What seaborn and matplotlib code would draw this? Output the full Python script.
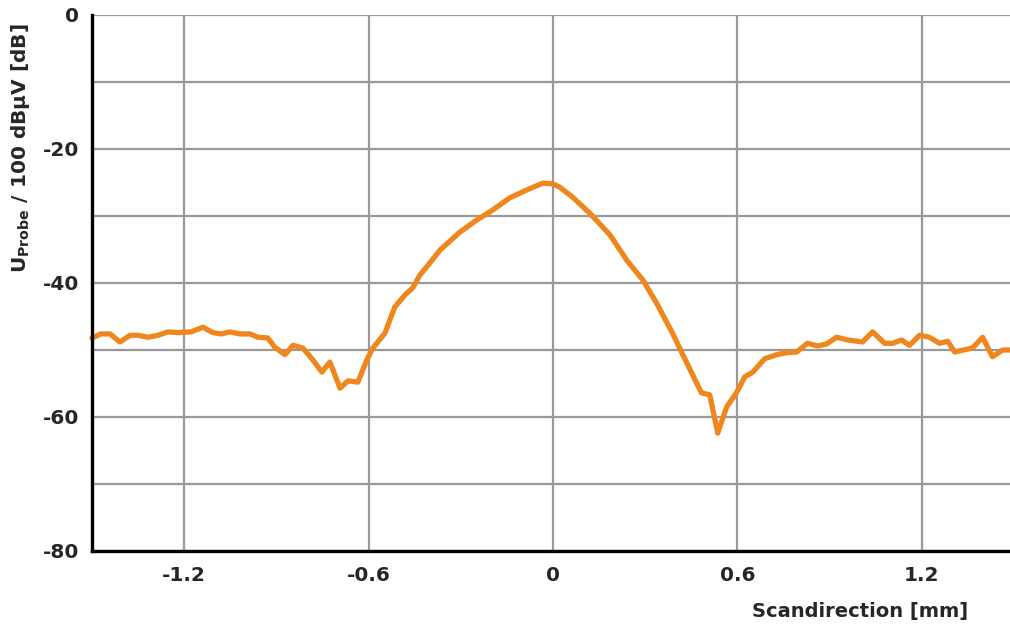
import matplotlib
matplotlib.use("Agg")
import matplotlib.pyplot as plt
import seaborn as sns
from matplotlib.ticker import MultipleLocator

# scan position (mm) and probe voltage (dB)
scan_mm = [-1.500, -1.471, -1.441, -1.409, -1.376, -1.350, -1.318, -1.285,
           -1.253, -1.220, -1.178, -1.139, -1.107, -1.080, -1.051, -1.019,
           -0.986, -0.960, -0.928, -0.905, -0.872, -0.846, -0.814, -0.781,
           -0.752, -0.726, -0.693, -0.667, -0.635, -0.606, -0.586, -0.547,
           -0.515, -0.482, -0.456, -0.433, -0.411, -0.368, -0.303, -0.248,
           -0.196, -0.141, -0.085, -0.033, -0.001, 0.022, 0.064, 0.120,
           0.185, 0.240, 0.293, 0.337, 0.389, 0.435, 0.483, 0.510,
           0.536, 0.565, 0.598, 0.624, 0.650, 0.689, 0.728, 0.760,
           0.793, 0.828, 0.861, 0.890, 0.923, 0.959, 1.007, 1.040,
           1.079, 1.105, 1.134, 1.160, 1.193, 1.225, 1.258, 1.284,
           1.307, 1.365, 1.398, 1.430, 1.463, 1.498]
u_probe = [-48.2, -47.6, -47.6, -48.8, -47.8, -47.8, -48.1, -47.8,
           -47.3, -47.4, -47.3, -46.6, -47.4, -47.6, -47.3, -47.6,
           -47.6, -48.1, -48.2, -49.6, -50.7, -49.3, -49.7, -51.5,
           -53.3, -51.8, -55.7, -54.6, -54.8, -51.5, -49.7, -47.5,
           -43.6, -41.8, -40.7, -38.8, -37.6, -35.1, -32.4, -30.6,
           -29.1, -27.3, -26.1, -25.1, -25.2, -25.7, -27.2, -29.6,
           -32.8, -36.6, -39.6, -43.0, -47.5, -51.9, -56.4, -56.7,
           -62.4, -58.5, -56.3, -54.0, -53.3, -51.3, -50.7, -50.4,
           -50.3, -49.0, -49.4, -49.1, -48.1, -48.5, -48.8, -47.3,
           -49.0, -49.0, -48.5, -49.3, -47.8, -48.1, -49.0, -48.7,
           -50.3, -49.7, -48.1, -51.0, -50.0, -50.0]
x_ticks = [-1.2, -0.6, 0, 0.6, 1.2]
x_tick_labels = ["-1.2", "-0.6", "0", "0.6", "1.2"]
y_ticks = [-80, -60, -40, -20, 0]
y_tick_labels = ["-80", "-60", "-40", "-20", "0"]

sns.set_style("white")
plt.rcParams["font.family"] = ["DejaVu Sans"]
plt.rcParams["font.weight"] = "bold"
plt.rcParams["mathtext.fontset"] = "custom"
plt.rcParams["mathtext.rm"] = "DejaVu Sans:bold"
plt.rcParams["mathtext.bf"] = "DejaVu Sans:bold"

fig = plt.figure(figsize=(10.1, 6.32), dpi=100)
ax = fig.add_axes([92 / 1010, (632 - 551) / 632, 922 / 1010, 536 / 632])

ax.set_xlim(-1.5, 1.5)
ax.set_ylim(-80, 0)
ax.xaxis.set_minor_locator(MultipleLocator(0.3))
ax.yaxis.set_minor_locator(MultipleLocator(10))
ax.set_xticks(x_ticks)
ax.set_xticklabels(x_tick_labels)
ax.set_yticks(y_ticks)
ax.set_yticklabels(y_tick_labels)

ax.grid(True, which="major", axis="x", color="#999999", lw=1.6)
ax.grid(True, which="both", axis="y", color="#999999", lw=1.6)
ax.set_axisbelow(True)

sns.lineplot(x=scan_mm, y=u_probe, ax=ax, color="#F0861E", lw=3.8,
             clip_on=False, zorder=3)

for side in ["top", "right"]:
    ax.spines[side].set_visible(False)
for side in ["left", "bottom"]:
    ax.spines[side].set_color("black")
    ax.spines[side].set_linewidth(2.4)
    ax.spines[side].set_zorder(4)

ax.tick_params(axis="both", which="both", direction="out", color="black",
               width=2, labelsize=14.5)
ax.tick_params(axis="x", which="both", length=4, pad=7)
ax.tick_params(axis="y", which="both", length=4, pad=5)

ax.set_xlabel("Scandirection [mm]", fontsize=14, fontweight="bold")
ax.set_ylabel(r"U$_{\rm Probe}$ / 100 dBµV [dB]", fontsize=14.5,
              fontweight="bold")
ax.xaxis.set_label_coords(0.833, -0.112)
ax.yaxis.set_label_coords(-0.078, 0.752)
ax.xaxis.label.set_va("center")
ax.yaxis.label.set_va("center")

fig.savefig("out.png", dpi=100)
